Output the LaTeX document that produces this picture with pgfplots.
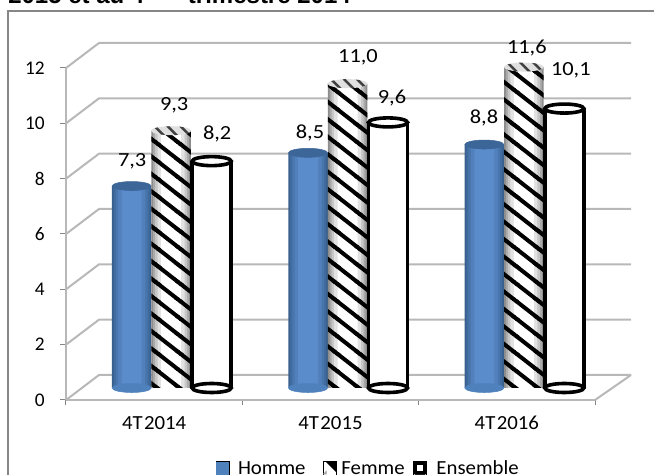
\documentclass[border=0pt]{standalone}
\usepackage{fontspec}
\setmainfont{Carlito}
\newfontfamily\titlefont{Liberation Sans}
\newfontfamily\labelfont[FakeStretch=1.12]{Carlito}
\newfontfamily\legendfont[FakeStretch=1.04]{Carlito}
\usepackage{pgfplots}
\usepackage{pgfplotstable}
\pgfplotsset{compat=1.18}
\usetikzlibrary{patterns,calc}

% one drawing unit
\newdimen\px \px=0.75pt

\definecolor{wallgray}{HTML}{B8B8B8}
\definecolor{tickgray}{HTML}{868686}
\definecolor{hommeblue}{HTML}{4F81BD}
\definecolor{hommedark}{HTML}{38608F}
\definecolor{hommemid}{HTML}{5A8BCB}

% diagonal stripes running down to the right, on an upright tile
\pgfdeclarepatternformonly{femmestripes}
  {\pgfqpoint{-0.5pt}{-0.5pt}}{\pgfqpoint{17.3pt}{13.6pt}}{\pgfqpoint{16.8pt}{13.1pt}}{%
  \pgfsetlinewidth{3pt}%
  \pgfpathmoveto{\pgfqpoint{-16.8pt}{26.2pt}}\pgfpathlineto{\pgfqpoint{33.6pt}{-13.1pt}}%
  \pgfpathmoveto{\pgfqpoint{-16.8pt}{13.1pt}}\pgfpathlineto{\pgfqpoint{33.6pt}{-26.2pt}}%
  \pgfpathmoveto{\pgfqpoint{-16.8pt}{39.3pt}}\pgfpathlineto{\pgfqpoint{33.6pt}{0pt}}%
  \pgfusepath{stroke}}

% elliptical ends of the cylinders
\pgfdeclareplotmark{cylcap}{%
  \pgfpathellipse{\pgfpointorigin}{\pgfqpoint{19.5\px}{0pt}}{\pgfqpoint{0pt}{4.5\px}}%
  \pgfusepathqfillstroke}
\pgfdeclareplotmark{stripecap}{%
  \pgfscope
  \pgfsetfillcolor{black!12}%
  \pgfpathellipse{\pgfpointorigin}{\pgfqpoint{20\px}{0pt}}{\pgfqpoint{0pt}{4.5\px}}%
  \pgfusepath{fill}%
  \pgfpathellipse{\pgfpointorigin}{\pgfqpoint{20\px}{0pt}}{\pgfqpoint{0pt}{4.5\px}}%
  \pgfusepath{clip}%
  \pgfsetlinewidth{2.5\px}%
  \pgfsetstrokecolor{black!75}%
  \pgfpathmoveto{\pgfqpoint{-18\px}{6\px}}\pgfpathlineto{\pgfqpoint{-6\px}{-6\px}}%
  \pgfpathmoveto{\pgfqpoint{-5\px}{6\px}}\pgfpathlineto{\pgfqpoint{7\px}{-6\px}}%
  \pgfpathmoveto{\pgfqpoint{8\px}{6\px}}\pgfpathlineto{\pgfqpoint{20\px}{-6\px}}%
  \pgfusepath{stroke}%
  \endpgfscope}

\pgfplotstableread{
cat  base homme femme ensemble
0.5  0    7.3   9.3   8.2
1.5  0    8.5   11.0  9.6
2.5  0    8.8   11.6  10.1
}\rates

\pgfplotsset{
  cyl/.style={xshift=#1, yshift=12\px},
  body/.style={ybar, bar width=#1, bar shift=0pt, forget plot, draw=none},
  cap/.style={only marks, forget plot},
}

% rounded look of a cylinder: nested columns from the edge colour to the centre colour
% #1 shift, #2 edge colour, #3 centre colour, #4 value column
\newcommand\cylinderbody[4]{
  \addplot[body=39.5\px, cyl=#1, fill=#2]        table[x=cat,y=#4]{\rates};
  \addplot[body=36\px,   cyl=#1, fill=#3!25!#2]  table[x=cat,y=#4]{\rates};
  \addplot[body=32\px,   cyl=#1, fill=#3!50!#2]  table[x=cat,y=#4]{\rates};
  \addplot[body=27\px,   cyl=#1, fill=#3!75!#2]  table[x=cat,y=#4]{\rates};
  \addplot[body=20\px,   cyl=#1, fill=#3]        table[x=cat,y=#4]{\rates};
}

\begin{document}
\begin{tikzpicture}[x=1pt,y=1pt]
\useasboundingbox (0,0) rectangle (654\px,475\px);
\clip (0,0) rectangle (654\px,475\px);

% page heading and chart frame
\node[anchor=base west, inner sep=0pt, font=\titlefont\bfseries\fontsize{18}{20}\selectfont]
  at (8\px,471\px) {2015 et au 4\textsuperscript{ème}\kern2pt\ trimestre 2014};
\draw[tickgray, line width=1.2\px] (8\px,-2\px) -- (8\px,464\px) -- (656\px,464\px);

\begin{axis}[
  at={(66\px,75\px)}, anchor=south west,
  scale only axis, width=529\px, height=332\px,
  xmin=0, xmax=3, ymin=0, ymax=12,
  clip=false,
  axis x line=bottom, axis y line=left,
  axis line style={-, draw=wallgray, line width=2\px},
  xtick={0,1,2,3},
  xticklabels={4T\kern1pt2014,4T\kern1pt2015,4T\kern1pt2016},
  x tick label as interval,
  ytick={0,2,...,12},
  tick align=outside,
  major tick length=5.5\px,
  tick style={draw=tickgray, line width=1\px},
  tick label style={black},
  xticklabel style={yshift=-6\px, font=\legendfont\fontsize{15}{17}\selectfont},
  yticklabel style={xshift=-11\px, font=\fontsize{14.5}{17}\selectfont},
  /pgf/number format/assume math mode=true,
  legend columns=3,
  legend cell align=left,
  legend style={
    at={(0.572,-0.205)}, anchor=center, draw=none, fill=none,
    font=\legendfont\fontsize{15}{17}\selectfont, inner sep=0pt,
    /tikz/every even column/.append style={column sep=6\px},
  },
]

% side wall and back wall
\pgfplotsinvokeforeach{0,2,4,6,8,10,12}{
  \draw[wallgray, line width=2\px]
    (axis cs:0,#1) -- ($(axis cs:0,#1)+(33\px,25\px)$) -- ($(axis cs:3,#1)+(36\px,25\px)$);
}
\draw[wallgray, line width=2\px] (axis cs:3,0) -- ($(axis cs:3,0)+(36\px,25\px)$);

% Homme
\cylinderbody{-22.5\px}{hommedark}{hommemid}{homme}
\addplot[cap, cyl=-22.5\px, mark=cylcap, mark options={fill=hommeblue, draw=hommeblue}]
  table[x=cat,y=base]{\rates};
\addplot[cap, cyl=-22.5\px, mark=cylcap, mark options={fill=hommedark!85!hommemid, draw=hommedark!85!hommemid}]
  table[x=cat,y=homme]{\rates};

% Femme: shaded cylinder under diagonal stripes
\cylinderbody{17\px}{black!45}{white}{femme}
\addplot[body=39.5\px, cyl=17\px, pattern=femmestripes, pattern color=black]
  table[x=cat,y=femme]{\rates};
\addplot[cap, cyl=17\px, mark=stripecap, mark options={draw=none}]
  table[x=cat,y=femme]{\rates};

% Ensemble: white cylinder with heavy outline
\addplot[body=39\px, cyl=57.5\px, fill=white]
  table[x=cat,y=ensemble]{\rates};
\addplot[ycomb, forget plot, cyl=38\px, black, line width=3.8\px]
  table[x=cat,y=ensemble]{\rates};
\addplot[ycomb, forget plot, cyl=77\px, black, line width=3.8\px]
  table[x=cat,y=ensemble]{\rates};
\addplot[cap, cyl=57.5\px, mark=cylcap, mark options={fill=white, draw=black, line width=3.6\px}]
  table[x=cat,y=base]{\rates};
\addplot[cap, cyl=57.5\px, mark=cylcap, mark options={fill=white, draw=black, line width=3.6\px}]
  table[x=cat,y=ensemble]{\rates};

% value labels, each with its own offset from the category centre
\addplot[
  forget plot, draw=none, mark=none,
  point meta=explicit,
  visualization depends on={\thisrow{dx} \as \labdx},
  visualization depends on={\thisrow{dy} \as \labdy},
  nodes near coords,
  nodes near coords style={
    anchor=center, inner sep=0pt, black,
    font=\labelfont\fontsize{15}{17}\selectfont,
    xshift=\labdx*0.75pt, yshift=\labdy*0.75pt,
    /pgf/number format/.cd, fixed, fixed zerofill, precision=1, use comma,
  },
] table[x=cat, y=val, meta=val] {
cat val  dx    dy
0.5 7.3  -22   37
0.5 9.3  20    37.7
0.5 8.2  63    39
1.5 8.5  -20.5 32
1.5 11.0 27.5  38.6
1.5 9.6  61.5  36.4
2.5 8.8  -22.8 38.5
2.5 11.6 20    31
2.5 10.1 64    50.5
};

% legend
\addlegendimage{legend image code/.code={
  \path (0,-7\px) rectangle (13\px,7\px);
  \fill[hommeblue] (0,-6\px) rectangle (12\px,6\px);}}
\addlegendentry{\strut\kern6\px Homme\kern9\px}
\addlegendimage{legend image code/.code={
  \path (0,-7\px) rectangle (13\px,7\px);
  \fill[black] (3\px,6\px) -- (13\px,6\px) -- (13\px,-4\px) -- (8\px,1\px) -- cycle;
  \fill[black!35] (0,-6\px) -- (3\px,-6\px) -- (3\px,-3\px) -- cycle;}}
\addlegendentry{\strut\kern2\px Femme}
\addlegendimage{legend image code/.code={
  \path (0,-7\px) rectangle (13\px,7\px);
  \fill[black, rounded corners=2.5\px] (0,-6.5\px) rectangle (13\px,6.5\px);
  \fill[white] (4\px,-2.5\px) rectangle (9\px,2.5\px);}}
\addlegendentry{\strut\kern7\px Ensemble}
\end{axis}
\end{tikzpicture}
\end{document}
